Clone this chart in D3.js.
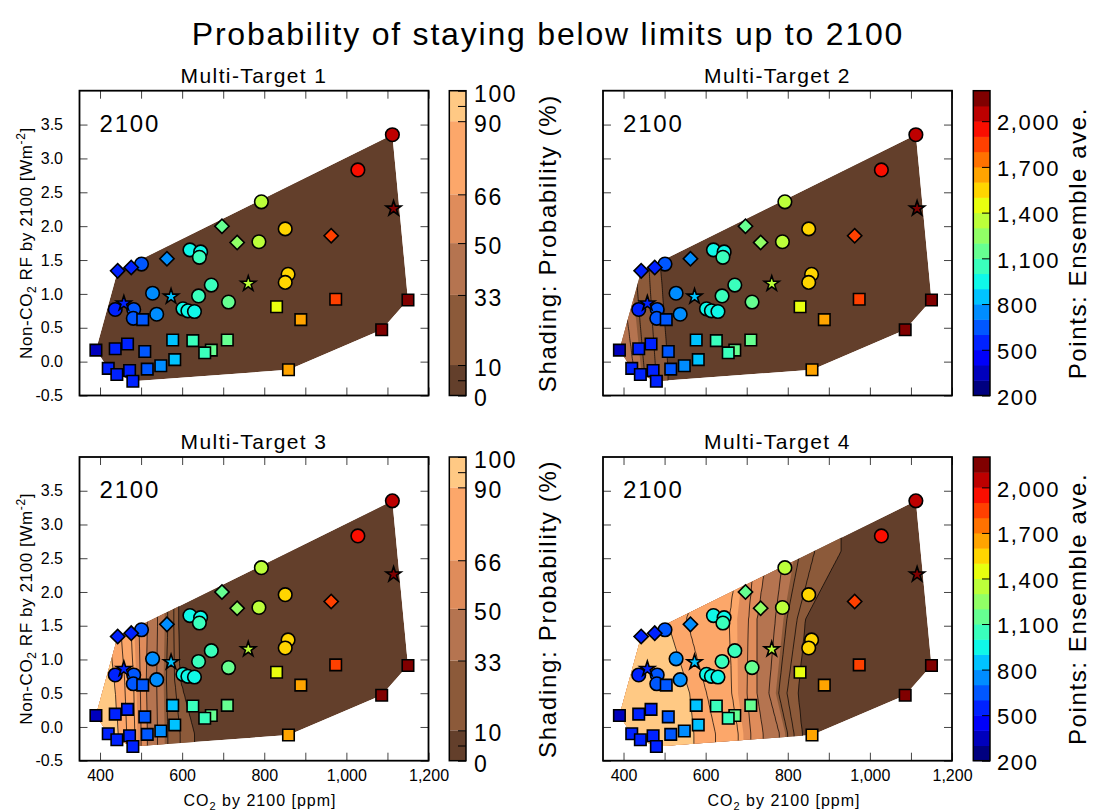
<!DOCTYPE html>
<html><head><meta charset="utf-8">
<script src="https://cdn.jsdelivr.net/npm/d3@7"></script>
<style>body{margin:0;background:#fff} text{font-family:"Liberation Sans",Arial,Helvetica,sans-serif;fill:#000}</style>
</head><body><svg id="c" width="1094" height="811"></svg>
<script>
// ================= DATA =================
const chartTitle = "Probability of staying below limits up to 2100";
const panelTitles = ["Multi-Target 1","Multi-Target 2","Multi-Target 3","Multi-Target 4"];
const yearLabel = "2100";

// scenario points: CO2 by 2100 [ppm], non-CO2 RF by 2100 [W m-2], ensemble average, marker
const pointCO2 = [1112,1028,793,851,787,619,645,642,501,858,851,671,528,640,713,437,482,481,538,602,614,630,
                  443,476,563,697,734,963,
                  1115,761,573,458,
                  390,437,467,504,509,577,626,671,655,710,420,441,472,480,515,548,582,830,889,859,974,1086,1150];
const pointRF  = [3.35,2.83,2.36,1.96,1.77,1.65,1.62,1.54,1.44,1.29,1.17,1.13,1.01,0.97,0.88,0.77,0.77,0.64,0.70,0.78,0.75,0.74,
                  1.34,1.39,1.52,2.00,1.76,1.86,
                  2.26,1.15,0.96,0.86,
                  0.17,0.19,0.26,0.62,0.15,0.32,0.31,0.17,0.13,0.32,-0.10,-0.19,-0.13,-0.29,-0.11,-0.06,0.03,0.81,0.62,-0.12,0.92,0.47,0.91];
const pointAve = [2050,1950,1350,1550,1350,950,950,1000,650,1550,1550,1050,700,1050,1150,550,600,600,700,950,950,950,
                  500,550,750,1150,1250,1800,
                  2150,1350,850,500,
                  300,500,550,650,650,850,1050,1150,1050,1150,500,500,550,550,650,750,850,1450,1650,1650,1850,2150,2150];
const pointShape = [].concat(Array(22).fill("circle"), Array(6).fill("diamond"), Array(4).fill("star"), Array(23).fill("square"));

// probability contour lines (%) and the CO2 [ppm] where each is crossed, at several RF heights
const probLevels = [90,80,70,60,50,40,30,20,10];
const mt1Heights = [];
const mt1Cross = [];
const mt2Heights = [-0.1, 0.6, 1.4];
const mt2Cross = [
  [250,280,310,340,380,425,450,478,508],
  [240,270,300,330,370,410,440,470,500],
  [200,240,280,320,350,380,430,462,490]];
const mt3Heights = [-0.1, 0.7, 1.5];
const mt3Cross = [
  [445,465,485,500,515,540,565,595,630],
  [435,460,482,498,512,538,562,582,595],
  [420,450,475,495,515,540,565,580,590]];
const mt4Heights = [-0.1, 0.5, 1.6, 2.6];
const mt4Cross = [
  [571,624,680,710,740,780,800,815,835],
  [561,602,664,701,725,754,778,798,825],
  [505,553,658,705,725,770,798,823,843],
  [540,600,680,720,750,790,830,865,930]];

// shading bands
const bandLevels = [0,10,33,50,66,90,100];
const bandColors = ["#633f2b","#8c5a3a","#b57450","#df8c5b","#fca76a","#ffc984"];
const probTicks = [0,5,10,33,50,66,90,95,100];
const probTickLabels = ["0","","10","33","50","66","90","","100"];
const aveTicks = [200,500,800,1100,1400,1700,2000];
const aveDomain = [200,2200];
const aveBins = 20;

const xTicks = [400,500,600,700,800,900,1000,1100,1200];
const xLabelTicks = [400,600,800,1000,1200];
const yTicks = [-0.5,0,0.5,1,1.5,2,2.5,3,3.5];
const xDomain = [350,1200];
const yDomain = [-0.5,4.0];

// ================= DRAWING =================
const svg = d3.select("#c");
const defs = svg.append("defs");
const FONT = '"Liberation Sans",Arial,Helvetica,sans-serif';

function jet(t){
  const r = d3.scaleLinear().domain([0,0.35,0.66,0.89,1]).range([0,0,1,1,0.5]).clamp(true)(t);
  const g = d3.scaleLinear().domain([0,0.125,0.375,0.64,0.91,1]).range([0,0,1,1,0,0]).clamp(true)(t);
  const b = d3.scaleLinear().domain([0,0.11,0.34,0.65,1]).range([0.5,1,1,0,0]).clamp(true)(t);
  return d3.rgb(r*255,g*255,b*255).formatHex();
}
const binW = (aveDomain[1]-aveDomain[0])/aveBins;
function aveColor(v){
  const bin = Math.max(0, Math.min(aveBins-1, Math.floor((v-aveDomain[0])/binW)));
  return jet(bin/(aveBins-1));
}

function makeField(heights, cross){
  if (!heights.length) return () => () => 0;
  const lvlScales = probLevels.map((_,k) => d3.scaleLinear().domain(heights).range(cross.map(row=>row[k])).clamp(true));
  return r => {
    const cs = lvlScales.map(s => s(r));
    return d3.scaleLinear()
      .domain([cs[0]-40, ...cs, cs[cs.length-1]+40])
      .range([100, ...probLevels, 0]).clamp(true);
  };
}

const symbolGen = {
  circle: d3.symbol().type(d3.symbolCircle).size(145),
  square: d3.symbol().type(d3.symbolSquare).size(132),
  diamond: d3.symbol().type(d3.symbolSquare).size(102),
  star: d3.symbol().type(d3.symbolStar).size(70)
};

function drawPanel(idx, px0, px1, py0, py1, heights, cross, showX, showY){
  const x = d3.scaleLinear().domain(xDomain).range([px0,px1]);
  const y = d3.scaleLinear().domain(yDomain).range([py1,py0]);
  const g = svg.append("g");

  // hull of the scenario cloud = interpolation domain
  const pts = pointCO2.map((c,i)=>[x(c), y(pointRF[i])]);
  const hull = d3.polygonHull(pts);
  const clipId = "hull"+idx;
  defs.append("clipPath").attr("id",clipId).append("path").attr("d","M"+hull.join("L")+"Z");

  const shade = g.append("g").attr("clip-path",`url(#${clipId})`);
  shade.append("path").attr("d","M"+hull.join("L")+"Z").attr("fill",bandColors[0]);

  const field = makeField(heights, cross);
  const step = 2;
  const nx = Math.ceil((px1-px0)/step)+1, ny = Math.ceil((py1-py0)/step)+1;
  const values = new Float64Array(nx*ny);
  for (let j=0;j<ny;j++){
    const f = field(y.invert(py0+j*step));
    for (let i=0;i<nx;i++) values[j*nx+i] = f(x.invert(px0+i*step));
  }
  const proj = d3.geoPath(d3.geoTransform({point(cx,cy){ this.stream.point(px0+(cx-0.5)*step, py0+(cy-0.5)*step); }}));
  const bands = d3.contours().size([nx,ny]).thresholds(bandLevels.slice(1,-1))(values);
  bands.forEach((c,k)=>{
    shade.append("path").attr("d",proj(c)).attr("fill",bandColors[k+1]);
  });
  const lines = d3.contours().size([nx,ny]).thresholds(probLevels)(values);
  lines.forEach(c=>{
    shade.append("path").attr("d",proj(c)).attr("fill","none").attr("stroke","#000").attr("stroke-width",0.7);
  });

  // points
  pointCO2.forEach((c,i)=>{
    const s = pointShape[i];
    g.append("path")
      .attr("d", symbolGen[s]())
      .attr("transform", `translate(${x(c)},${y(pointRF[i])})` + (s==="diamond" ? " rotate(45)" : ""))
      .attr("fill", aveColor(pointAve[i]))
      .attr("stroke","#000").attr("stroke-width",1.6);
  });

  // axes (inward ticks on all sides)
  const fmtX = v => showX && xLabelTicks.includes(v) ? d3.format(",")(v) : "";
  const fmtY = v => showY ? v.toFixed(1) : "";
  const ax = [
    [d3.axisBottom(x).tickValues(xTicks).tickFormat(fmtX).tickSize(-8).tickSizeOuter(0).tickPadding(9), `translate(0,${py1})`],
    [d3.axisTop(x).tickValues(xTicks).tickFormat("").tickSize(-8).tickSizeOuter(0), `translate(0,${py0})`],
    [d3.axisLeft(y).tickValues(yTicks).tickFormat(fmtY).tickSize(-8).tickSizeOuter(0).tickPadding(16.5), `translate(${px0},0)`],
    [d3.axisRight(y).tickValues(yTicks).tickFormat("").tickSize(-8).tickSizeOuter(0), `translate(${px1},0)`]
  ];
  ax.forEach(([a,tr])=>{
    const ag = g.append("g").attr("transform",tr).call(a);
    ag.select(".domain").remove();
    ag.selectAll("line").attr("stroke","#444").attr("stroke-width",1);
    ag.selectAll("text").attr("font-family",FONT).attr("font-size",16).attr("fill","#000");
  });

  g.append("rect").attr("x",px0).attr("y",py0).attr("width",px1-px0).attr("height",py1-py0)
    .attr("fill","none").attr("stroke","#000").attr("stroke-width",1.8);

  g.append("text").attr("x",(px0+px1)/2).attr("y",py0-8).attr("text-anchor","middle")
    .attr("font-size",21).attr("letter-spacing",1.4).text(panelTitles[idx]);
  g.append("text").attr("x",px0+20).attr("y",py0+41).attr("font-size",24).attr("letter-spacing",1.8).text(yearLabel);
  return {x,y};
}

function probColorbar(bx, by0, by1){
  const w = 16.7;
  const s = d3.scaleLinear().domain([0,100]).range([by1,by0]);
  const g = svg.append("g");
  for (let k=0;k<bandColors.length;k++){
    g.append("rect").attr("x",bx).attr("y",s(bandLevels[k+1])).attr("width",w)
      .attr("height",s(bandLevels[k])-s(bandLevels[k+1])).attr("fill",bandColors[k]);
  }
  const ag = g.append("g").attr("transform",`translate(${bx+w},0)`)
    .call(d3.axisRight(s).tickValues(probTicks).tickFormat((d,i)=>probTickLabels[i]).tickSize(-8).tickSizeOuter(0).tickPadding(8));
  ag.select(".domain").remove();
  ag.selectAll("line").attr("stroke","#000");
  ag.selectAll("text").attr("font-family",FONT).attr("font-size",23).attr("letter-spacing",1.6).attr("dy","0.45em");
  g.append("rect").attr("x",bx).attr("y",by0).attr("width",w).attr("height",by1-by0).attr("fill","none").attr("stroke","#000").attr("stroke-width",1.5);
  g.append("text").attr("transform",`translate(${bx+107},${(by0+by1)/2}) rotate(-90)`).attr("text-anchor","middle")
    .attr("font-size",24).attr("letter-spacing",1.7).text("Shading: Probability (%)");
}

function aveColorbar(bx, by0, by1){
  const w = 16.7;
  const s = d3.scaleLinear().domain(aveDomain).range([by1,by0]);
  const g = svg.append("g");
  d3.range(aveBins).forEach(b=>{
    const v0 = aveDomain[0]+b*binW, v1 = v0+binW;
    g.append("rect").attr("x",bx).attr("y",s(v1)).attr("width",w).attr("height",s(v0)-s(v1)+0.5).attr("fill",jet(b/(aveBins-1)));
  });
  const ag = g.append("g").attr("transform",`translate(${bx+w},0)`)
    .call(d3.axisRight(s).tickValues(aveTicks).tickFormat(d3.format(",")).tickSize(-8).tickSizeOuter(0).tickPadding(7));
  ag.select(".domain").remove();
  ag.selectAll("line").attr("stroke","#000");
  ag.selectAll("text").attr("font-family",FONT).attr("font-size",22).attr("letter-spacing",1.6).attr("dy","0.4em");
  g.append("rect").attr("x",bx).attr("y",by0).attr("width",w).attr("height",by1-by0).attr("fill","none").attr("stroke","#000").attr("stroke-width",1.5);
  g.append("text").attr("transform",`translate(${bx+113},${(by0+by1)/2}) rotate(-90)`).attr("text-anchor","middle")
    .attr("font-size",24).attr("letter-spacing",1.6).text("Points: Ensemble ave.");
}

function yLabel(cx, cy){
  const t = svg.append("text").attr("transform",`translate(${cx},${cy}) rotate(-90)`).attr("text-anchor","middle")
    .attr("font-size",17).attr("letter-spacing",0.6);
  t.append("tspan").text("Non-CO");
  t.append("tspan").attr("font-size",12).attr("dy",4).text("2");
  t.append("tspan").attr("dy",-4).text(" RF by 2100 [Wm");
  t.append("tspan").attr("font-size",12).attr("dy",-7).text("-2");
  t.append("tspan").attr("dy",7).text("]");
}
function xLabel(cx, cy){
  const t = svg.append("text").attr("x",cx).attr("y",cy).attr("text-anchor","middle").attr("font-size",16).attr("letter-spacing",1);
  t.append("tspan").text("CO");
  t.append("tspan").attr("font-size",11).attr("dy",4).text("2");
  t.append("tspan").attr("dy",-4).text(" by 2100 [ppm]");
}

svg.append("text").attr("x",548).attr("y",45).attr("text-anchor","middle").attr("font-size",32)
  .attr("letter-spacing",1.8).text(chartTitle);

const L0=79.5, L1=428.5, R0=603, R1=952, T0=90.7, T1=395.5, B0=457, B1=760.7;
drawPanel(0, L0, L1, T0, T1, mt1Heights, mt1Cross, false, true);
drawPanel(1, R0, R1, T0, T1, mt2Heights, mt2Cross, false, false);
drawPanel(2, L0, L1, B0, B1, mt3Heights, mt3Cross, true, true);
drawPanel(3, R0, R1, B0, B1, mt4Heights, mt4Cross, true, false);

probColorbar(449.3, T0, T1);
probColorbar(449.3, B0, B1);
aveColorbar(973.3, T0, T1);
aveColorbar(973.3, B0, B1);

yLabel(32, (T0+T1)/2);
yLabel(32, (B0+B1)/2);
xLabel(260, 806);
xLabel(784, 806);
</script></body></html>
